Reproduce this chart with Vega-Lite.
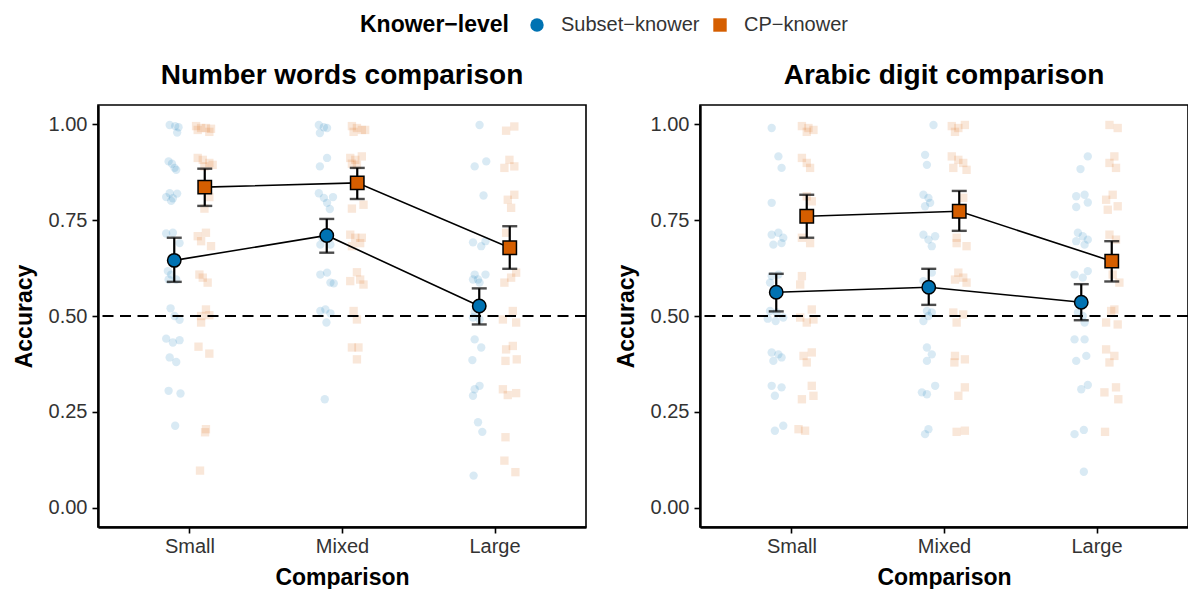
{
  "$schema": "https://vega.github.io/schema/vega-lite/v6.json",
  "padding": {"left": 12, "top": 15, "right": 0, "bottom": 2},
  "background": "white",
  "spacing": 26,
  "config": {
    "font": "Liberation Sans",
    "view": {"stroke": "black", "strokeWidth": 1.6},
    "axis": {"grid": false, "domainColor": "black", "domainWidth": 2.4, "tickColor": "black", "tickWidth": 1.6, "tickSize": 6, "labelFontSize": 20, "labelColor": "#333333", "labelFont": "Liberation Sans", "titleFontSize": 23, "titleFontWeight": "bold", "titleColor": "black", "titleFont": "Liberation Sans"},
    "title": {"fontSize": 28, "fontWeight": "bold", "color": "black", "anchor": "middle", "offset": 15, "font": "Liberation Sans"},
    "legend": {"orient": "none", "legendX": 262, "legendY": -90, "direction": "horizontal", "titleOrient": "left", "titleFontSize": 23, "titleFontWeight": "bold", "titleColor": "black", "titlePadding": 18, "labelFontSize": 20, "labelColor": "#333333", "labelOffset": 14, "columnPadding": 10, "symbolSize": 180, "symbolStrokeColor": "black", "symbolStrokeWidth": 1.5, "symbolOpacity": 1, "titleFont": "Liberation Sans", "labelFont": "Liberation Sans"}
  },
  "datasets": {
    "wordsMeans": [
      {"knower": "Subset-knower", "x": 0.9, "mean": 0.645, "lo": 0.589, "hi": 0.704},
      {"knower": "CP-knower", "x": 1.1, "mean": 0.836, "lo": 0.787, "hi": 0.884},
      {"knower": "Subset-knower", "x": 1.9, "mean": 0.710, "lo": 0.665, "hi": 0.753},
      {"knower": "CP-knower", "x": 2.1, "mean": 0.847, "lo": 0.805, "hi": 0.886},
      {"knower": "Subset-knower", "x": 2.9, "mean": 0.526, "lo": 0.478, "hi": 0.572},
      {"knower": "CP-knower", "x": 3.1, "mean": 0.678, "lo": 0.623, "hi": 0.734}
    ],
    "digitsMeans": [
      {"knower": "Subset-knower", "x": 0.9, "mean": 0.562, "lo": 0.512, "hi": 0.610},
      {"knower": "CP-knower", "x": 1.1, "mean": 0.760, "lo": 0.704, "hi": 0.816},
      {"knower": "Subset-knower", "x": 1.9, "mean": 0.575, "lo": 0.529, "hi": 0.623},
      {"knower": "CP-knower", "x": 2.1, "mean": 0.773, "lo": 0.722, "hi": 0.826},
      {"knower": "Subset-knower", "x": 2.9, "mean": 0.536, "lo": 0.489, "hi": 0.583},
      {"knower": "CP-knower", "x": 3.1, "mean": 0.643, "lo": 0.590, "hi": 0.695}
    ],
    "wordsSubset": [
      {"x": 0.870, "y": 0.998}, {"x": 0.906, "y": 0.995}, {"x": 0.928, "y": 0.992}, {"x": 0.919, "y": 0.978}, {"x": 0.863, "y": 0.903}, {"x": 0.885, "y": 0.897}, {"x": 0.902, "y": 0.886}, {"x": 0.913, "y": 0.881}, {"x": 0.847, "y": 0.81}, {"x": 0.870, "y": 0.82}, {"x": 0.891, "y": 0.807}, {"x": 0.919, "y": 0.819}, {"x": 0.880, "y": 0.80}, {"x": 0.847, "y": 0.715}, {"x": 0.891, "y": 0.717}, {"x": 0.935, "y": 0.69}, {"x": 0.858, "y": 0.617}, {"x": 0.880, "y": 0.608}, {"x": 0.913, "y": 0.595}, {"x": 0.863, "y": 0.595}, {"x": 0.876, "y": 0.52}, {"x": 0.902, "y": 0.50}, {"x": 0.935, "y": 0.49}, {"x": 0.847, "y": 0.441}, {"x": 0.891, "y": 0.431}, {"x": 0.935, "y": 0.437}, {"x": 0.870, "y": 0.392}, {"x": 0.913, "y": 0.38}, {"x": 0.863, "y": 0.305}, {"x": 0.941, "y": 0.298}, {"x": 0.906, "y": 0.214},
      {"x": 1.848, "y": 0.998}, {"x": 1.881, "y": 0.992}, {"x": 1.902, "y": 0.99}, {"x": 1.855, "y": 0.977}, {"x": 1.902, "y": 0.912}, {"x": 1.855, "y": 0.89}, {"x": 1.848, "y": 0.82}, {"x": 1.881, "y": 0.808}, {"x": 1.941, "y": 0.81}, {"x": 1.902, "y": 0.795}, {"x": 1.920, "y": 0.779}, {"x": 1.870, "y": 0.704}, {"x": 1.924, "y": 0.686}, {"x": 1.858, "y": 0.686}, {"x": 1.858, "y": 0.608}, {"x": 1.902, "y": 0.613}, {"x": 1.924, "y": 0.587}, {"x": 1.946, "y": 0.585}, {"x": 1.858, "y": 0.513}, {"x": 1.891, "y": 0.517}, {"x": 1.924, "y": 0.507}, {"x": 1.898, "y": 0.483}, {"x": 1.887, "y": 0.283},
      {"x": 2.902, "y": 0.998}, {"x": 2.870, "y": 0.89}, {"x": 2.946, "y": 0.903}, {"x": 2.928, "y": 0.814}, {"x": 2.859, "y": 0.692}, {"x": 2.913, "y": 0.682}, {"x": 2.941, "y": 0.695}, {"x": 2.870, "y": 0.608}, {"x": 2.892, "y": 0.595}, {"x": 2.941, "y": 0.608}, {"x": 2.859, "y": 0.595}, {"x": 2.902, "y": 0.587}, {"x": 2.870, "y": 0.509}, {"x": 2.859, "y": 0.496}, {"x": 2.902, "y": 0.491}, {"x": 2.870, "y": 0.439}, {"x": 2.913, "y": 0.418}, {"x": 2.855, "y": 0.385}, {"x": 2.902, "y": 0.318}, {"x": 2.870, "y": 0.309}, {"x": 2.859, "y": 0.292}, {"x": 2.892, "y": 0.223}, {"x": 2.920, "y": 0.198}, {"x": 2.863, "y": 0.084}
    ],
    "wordsCP": [
      {"x": 1.043, "y": 0.995}, {"x": 1.076, "y": 0.99}, {"x": 1.108, "y": 0.99}, {"x": 1.141, "y": 0.988}, {"x": 1.054, "y": 0.985}, {"x": 1.130, "y": 0.98}, {"x": 1.054, "y": 0.912}, {"x": 1.087, "y": 0.907}, {"x": 1.130, "y": 0.899}, {"x": 1.098, "y": 0.89}, {"x": 1.152, "y": 0.894}, {"x": 1.130, "y": 0.81}, {"x": 1.098, "y": 0.78}, {"x": 1.054, "y": 0.708}, {"x": 1.108, "y": 0.717}, {"x": 1.076, "y": 0.695}, {"x": 1.141, "y": 0.682}, {"x": 1.065, "y": 0.608}, {"x": 1.087, "y": 0.6}, {"x": 1.119, "y": 0.587}, {"x": 1.108, "y": 0.517}, {"x": 1.076, "y": 0.5}, {"x": 1.130, "y": 0.502}, {"x": 1.076, "y": 0.483}, {"x": 1.059, "y": 0.42}, {"x": 1.130, "y": 0.402}, {"x": 1.108, "y": 0.205}, {"x": 1.102, "y": 0.197}, {"x": 1.069, "y": 0.097},
      {"x": 2.065, "y": 0.995}, {"x": 2.098, "y": 0.99}, {"x": 2.130, "y": 0.985}, {"x": 2.076, "y": 0.98}, {"x": 2.152, "y": 0.985}, {"x": 2.054, "y": 0.912}, {"x": 2.087, "y": 0.907}, {"x": 2.130, "y": 0.916}, {"x": 2.098, "y": 0.894}, {"x": 2.065, "y": 0.897}, {"x": 2.065, "y": 0.78}, {"x": 2.141, "y": 0.79}, {"x": 2.054, "y": 0.712}, {"x": 2.087, "y": 0.704}, {"x": 2.130, "y": 0.704}, {"x": 2.119, "y": 0.69}, {"x": 2.065, "y": 0.682}, {"x": 2.098, "y": 0.614}, {"x": 2.054, "y": 0.591}, {"x": 2.119, "y": 0.595}, {"x": 2.141, "y": 0.582}, {"x": 2.076, "y": 0.513}, {"x": 2.098, "y": 0.491}, {"x": 2.065, "y": 0.418}, {"x": 2.108, "y": 0.418}, {"x": 2.098, "y": 0.387},
      {"x": 3.076, "y": 0.983}, {"x": 3.130, "y": 0.994}, {"x": 3.098, "y": 0.907}, {"x": 3.065, "y": 0.886}, {"x": 3.130, "y": 0.89}, {"x": 3.087, "y": 0.803}, {"x": 3.130, "y": 0.816}, {"x": 3.109, "y": 0.782}, {"x": 3.076, "y": 0.717}, {"x": 3.065, "y": 0.587}, {"x": 3.109, "y": 0.6}, {"x": 3.142, "y": 0.613}, {"x": 3.055, "y": 0.491}, {"x": 3.120, "y": 0.513}, {"x": 3.142, "y": 0.483}, {"x": 3.076, "y": 0.413}, {"x": 3.120, "y": 0.422}, {"x": 3.072, "y": 0.383}, {"x": 3.146, "y": 0.387}, {"x": 3.055, "y": 0.309}, {"x": 3.087, "y": 0.294}, {"x": 3.142, "y": 0.299}, {"x": 3.072, "y": 0.184}, {"x": 3.065, "y": 0.123}, {"x": 3.137, "y": 0.093}
    ],
    "digitsSubset": [
      {"x": 0.870, "y": 0.99}, {"x": 0.914, "y": 0.916}, {"x": 0.935, "y": 0.886}, {"x": 0.870, "y": 0.795}, {"x": 0.870, "y": 0.712}, {"x": 0.914, "y": 0.717}, {"x": 0.946, "y": 0.704}, {"x": 0.881, "y": 0.686}, {"x": 0.935, "y": 0.69}, {"x": 0.870, "y": 0.604}, {"x": 0.914, "y": 0.608}, {"x": 0.859, "y": 0.587}, {"x": 0.859, "y": 0.513}, {"x": 0.903, "y": 0.509}, {"x": 0.946, "y": 0.496}, {"x": 0.844, "y": 0.493}, {"x": 0.896, "y": 0.487}, {"x": 0.870, "y": 0.405}, {"x": 0.914, "y": 0.4}, {"x": 0.935, "y": 0.392}, {"x": 0.881, "y": 0.383}, {"x": 0.870, "y": 0.318}, {"x": 0.935, "y": 0.314}, {"x": 0.891, "y": 0.292}, {"x": 0.891, "y": 0.201}, {"x": 0.946, "y": 0.214},
      {"x": 1.931, "y": 0.998}, {"x": 1.876, "y": 0.92}, {"x": 1.888, "y": 0.894}, {"x": 1.865, "y": 0.816}, {"x": 1.898, "y": 0.808}, {"x": 1.909, "y": 0.795}, {"x": 1.876, "y": 0.786}, {"x": 1.865, "y": 0.712}, {"x": 1.898, "y": 0.699}, {"x": 1.942, "y": 0.708}, {"x": 1.920, "y": 0.682}, {"x": 1.920, "y": 0.613}, {"x": 1.865, "y": 0.591}, {"x": 1.888, "y": 0.513}, {"x": 1.920, "y": 0.509}, {"x": 1.865, "y": 0.487}, {"x": 1.898, "y": 0.5}, {"x": 1.888, "y": 0.418}, {"x": 1.920, "y": 0.4}, {"x": 1.888, "y": 0.383}, {"x": 1.855, "y": 0.301}, {"x": 1.888, "y": 0.296}, {"x": 1.942, "y": 0.318}, {"x": 1.876, "y": 0.192}, {"x": 1.898, "y": 0.205},
      {"x": 2.943, "y": 0.916}, {"x": 2.895, "y": 0.883}, {"x": 2.867, "y": 0.812}, {"x": 2.922, "y": 0.816}, {"x": 2.943, "y": 0.796}, {"x": 2.867, "y": 0.784}, {"x": 2.878, "y": 0.717}, {"x": 2.910, "y": 0.708}, {"x": 2.943, "y": 0.699}, {"x": 2.867, "y": 0.695}, {"x": 2.922, "y": 0.686}, {"x": 2.856, "y": 0.608}, {"x": 2.910, "y": 0.6}, {"x": 2.943, "y": 0.617}, {"x": 2.878, "y": 0.509}, {"x": 2.922, "y": 0.483}, {"x": 2.910, "y": 0.5}, {"x": 2.856, "y": 0.439}, {"x": 2.922, "y": 0.439}, {"x": 2.867, "y": 0.383}, {"x": 2.933, "y": 0.396}, {"x": 2.900, "y": 0.309}, {"x": 2.943, "y": 0.32}, {"x": 2.856, "y": 0.192}, {"x": 2.917, "y": 0.203}, {"x": 2.917, "y": 0.094}
    ],
    "digitsCP": [
      {"x": 1.068, "y": 0.995}, {"x": 1.111, "y": 0.99}, {"x": 1.144, "y": 0.985}, {"x": 1.100, "y": 0.98}, {"x": 1.068, "y": 0.912}, {"x": 1.100, "y": 0.899}, {"x": 1.122, "y": 0.886}, {"x": 1.100, "y": 0.812}, {"x": 1.133, "y": 0.799}, {"x": 1.068, "y": 0.704}, {"x": 1.122, "y": 0.69}, {"x": 1.068, "y": 0.604}, {"x": 1.057, "y": 0.582}, {"x": 1.057, "y": 0.496}, {"x": 1.133, "y": 0.517}, {"x": 1.100, "y": 0.483}, {"x": 1.144, "y": 0.491}, {"x": 1.079, "y": 0.396}, {"x": 1.133, "y": 0.405}, {"x": 1.100, "y": 0.379}, {"x": 1.068, "y": 0.283}, {"x": 1.133, "y": 0.318}, {"x": 1.144, "y": 0.292}, {"x": 1.046, "y": 0.205}, {"x": 1.089, "y": 0.201},
      {"x": 2.051, "y": 0.995}, {"x": 2.094, "y": 0.99}, {"x": 2.137, "y": 0.998}, {"x": 2.072, "y": 0.98}, {"x": 2.051, "y": 0.916}, {"x": 2.094, "y": 0.907}, {"x": 2.126, "y": 0.899}, {"x": 2.061, "y": 0.886}, {"x": 2.148, "y": 0.881}, {"x": 2.126, "y": 0.808}, {"x": 2.083, "y": 0.704}, {"x": 2.083, "y": 0.69}, {"x": 2.148, "y": 0.682}, {"x": 2.094, "y": 0.613}, {"x": 2.126, "y": 0.6}, {"x": 2.148, "y": 0.587}, {"x": 2.072, "y": 0.595}, {"x": 2.061, "y": 0.509}, {"x": 2.126, "y": 0.504}, {"x": 2.083, "y": 0.483}, {"x": 2.072, "y": 0.396}, {"x": 2.137, "y": 0.387}, {"x": 2.068, "y": 0.379}, {"x": 2.137, "y": 0.314}, {"x": 2.094, "y": 0.292}, {"x": 2.083, "y": 0.198}, {"x": 2.137, "y": 0.201},
      {"x": 3.085, "y": 0.998}, {"x": 3.139, "y": 0.99}, {"x": 3.117, "y": 0.916}, {"x": 3.085, "y": 0.899}, {"x": 3.128, "y": 0.886}, {"x": 3.063, "y": 0.803}, {"x": 3.106, "y": 0.816}, {"x": 3.139, "y": 0.786}, {"x": 3.074, "y": 0.777}, {"x": 3.085, "y": 0.712}, {"x": 3.128, "y": 0.699}, {"x": 3.106, "y": 0.608}, {"x": 3.150, "y": 0.587}, {"x": 3.063, "y": 0.483}, {"x": 3.096, "y": 0.513}, {"x": 3.139, "y": 0.478}, {"x": 3.117, "y": 0.517}, {"x": 3.063, "y": 0.413}, {"x": 3.117, "y": 0.396}, {"x": 3.085, "y": 0.379}, {"x": 3.052, "y": 0.301}, {"x": 3.128, "y": 0.314}, {"x": 3.143, "y": 0.283}, {"x": 3.056, "y": 0.198}
    ],
    "refline": [{"y": 0.5}]
  },
  "hconcat": [
    {
      "width": 488, "height": 422,
      "title": {"text": "Number words comparison"},
      "encoding": {
        "x": {"field": "x", "type": "quantitative", "scale": {"domain": [0.4, 3.6], "nice": false, "zero": false}, "axis": {"values": [1, 2, 3], "labelExpr": "datum.value == 1 ? 'Small' : datum.value == 2 ? 'Mixed' : 'Large'", "title": "Comparison", "labelPadding": 3, "titlePadding": 10}}
      },
      "layer": [
        {"data": {"name": "wordsSubset"}, "mark": {"type": "point", "shape": "circle", "filled": true, "color": "#0072B2", "opacity": 0.15, "size": 70, "strokeWidth": 0},
         "encoding": {"y": {"field": "y", "type": "quantitative", "scale": {"domain": [-0.05, 1.05], "nice": false, "zero": false}, "axis": {"values": [0, 0.25, 0.5, 0.75, 1], "format": ".2f", "title": "Accuracy", "labelPadding": 5, "titlePadding": 12}}}},
        {"data": {"name": "wordsCP"}, "mark": {"type": "point", "shape": "square", "filled": true, "color": "#D55E00", "opacity": 0.15, "size": 70, "strokeWidth": 0},
         "encoding": {"y": {"field": "y", "type": "quantitative"}}},
        {"data": {"name": "refline"}, "mark": {"type": "rule", "color": "black", "strokeWidth": 2.2, "strokeDash": [11, 6.5]},
         "encoding": {"x": null, "y": {"field": "y", "type": "quantitative"}}},
        {"data": {"name": "wordsMeans"}, "mark": {"type": "line", "color": "black", "strokeWidth": 1.6},
         "encoding": {"y": {"field": "mean", "type": "quantitative"}, "detail": {"field": "knower"}}},
        {"data": {"name": "wordsMeans"}, "mark": {"type": "rule", "color": "black", "strokeWidth": 2.2},
         "encoding": {"y": {"field": "lo", "type": "quantitative"}, "y2": {"field": "hi"}}},
        {"data": {"name": "wordsMeans"}, "mark": {"type": "tick", "orient": "horizontal", "color": "black", "size": 15, "thickness": 2.4},
         "encoding": {"y": {"field": "lo", "type": "quantitative"}}},
        {"data": {"name": "wordsMeans"}, "mark": {"type": "tick", "orient": "horizontal", "color": "black", "size": 15, "thickness": 2.4},
         "encoding": {"y": {"field": "hi", "type": "quantitative"}}},
        {"data": {"name": "wordsMeans"}, "mark": {"type": "point", "filled": true, "opacity": 1, "size": 180, "stroke": "black", "strokeWidth": 1.5},
         "encoding": {"y": {"field": "mean", "type": "quantitative"},
           "fill": {"field": "knower", "type": "nominal", "scale": {"domain": ["Subset-knower", "CP-knower"], "range": ["#0072B2", "#D55E00"]}, "title": "Knower−level", "legend": {"labelExpr": "replace(datum.label, '-', '−')"}},
           "shape": {"field": "knower", "type": "nominal", "scale": {"domain": ["Subset-knower", "CP-knower"], "range": ["circle", "square"]}, "title": "Knower−level", "legend": {"labelExpr": "replace(datum.label, '-', '−')"}}}}
      ]
    },
    {
      "width": 488, "height": 422,
      "title": {"text": "Arabic digit comparison"},
      "encoding": {
        "x": {"field": "x", "type": "quantitative", "scale": {"domain": [0.4, 3.6], "nice": false, "zero": false}, "axis": {"values": [1, 2, 3], "labelExpr": "datum.value == 1 ? 'Small' : datum.value == 2 ? 'Mixed' : 'Large'", "title": "Comparison", "labelPadding": 3, "titlePadding": 10}}
      },
      "layer": [
        {"data": {"name": "digitsSubset"}, "mark": {"type": "point", "shape": "circle", "filled": true, "color": "#0072B2", "opacity": 0.15, "size": 70, "strokeWidth": 0},
         "encoding": {"y": {"field": "y", "type": "quantitative", "scale": {"domain": [-0.05, 1.05], "nice": false, "zero": false}, "axis": {"values": [0, 0.25, 0.5, 0.75, 1], "format": ".2f", "title": "Accuracy", "labelPadding": 5, "titlePadding": 12}}}},
        {"data": {"name": "digitsCP"}, "mark": {"type": "point", "shape": "square", "filled": true, "color": "#D55E00", "opacity": 0.15, "size": 70, "strokeWidth": 0},
         "encoding": {"y": {"field": "y", "type": "quantitative"}}},
        {"data": {"name": "refline"}, "mark": {"type": "rule", "color": "black", "strokeWidth": 2.2, "strokeDash": [11, 6.5]},
         "encoding": {"x": null, "y": {"field": "y", "type": "quantitative"}}},
        {"data": {"name": "digitsMeans"}, "mark": {"type": "line", "color": "black", "strokeWidth": 1.6},
         "encoding": {"y": {"field": "mean", "type": "quantitative"}, "detail": {"field": "knower"}}},
        {"data": {"name": "digitsMeans"}, "mark": {"type": "rule", "color": "black", "strokeWidth": 2.2},
         "encoding": {"y": {"field": "lo", "type": "quantitative"}, "y2": {"field": "hi"}}},
        {"data": {"name": "digitsMeans"}, "mark": {"type": "tick", "orient": "horizontal", "color": "black", "size": 15, "thickness": 2.4},
         "encoding": {"y": {"field": "lo", "type": "quantitative"}}},
        {"data": {"name": "digitsMeans"}, "mark": {"type": "tick", "orient": "horizontal", "color": "black", "size": 15, "thickness": 2.4},
         "encoding": {"y": {"field": "hi", "type": "quantitative"}}},
        {"data": {"name": "digitsMeans"}, "mark": {"type": "point", "filled": true, "opacity": 1, "size": 180, "stroke": "black", "strokeWidth": 1.5},
         "encoding": {"y": {"field": "mean", "type": "quantitative"},
           "fill": {"field": "knower", "type": "nominal", "scale": {"domain": ["Subset-knower", "CP-knower"], "range": ["#0072B2", "#D55E00"]}, "title": "Knower−level", "legend": {"labelExpr": "replace(datum.label, '-', '−')"}},
           "shape": {"field": "knower", "type": "nominal", "scale": {"domain": ["Subset-knower", "CP-knower"], "range": ["circle", "square"]}, "title": "Knower−level", "legend": {"labelExpr": "replace(datum.label, '-', '−')"}}}}
      ]
    }
  ]
}
